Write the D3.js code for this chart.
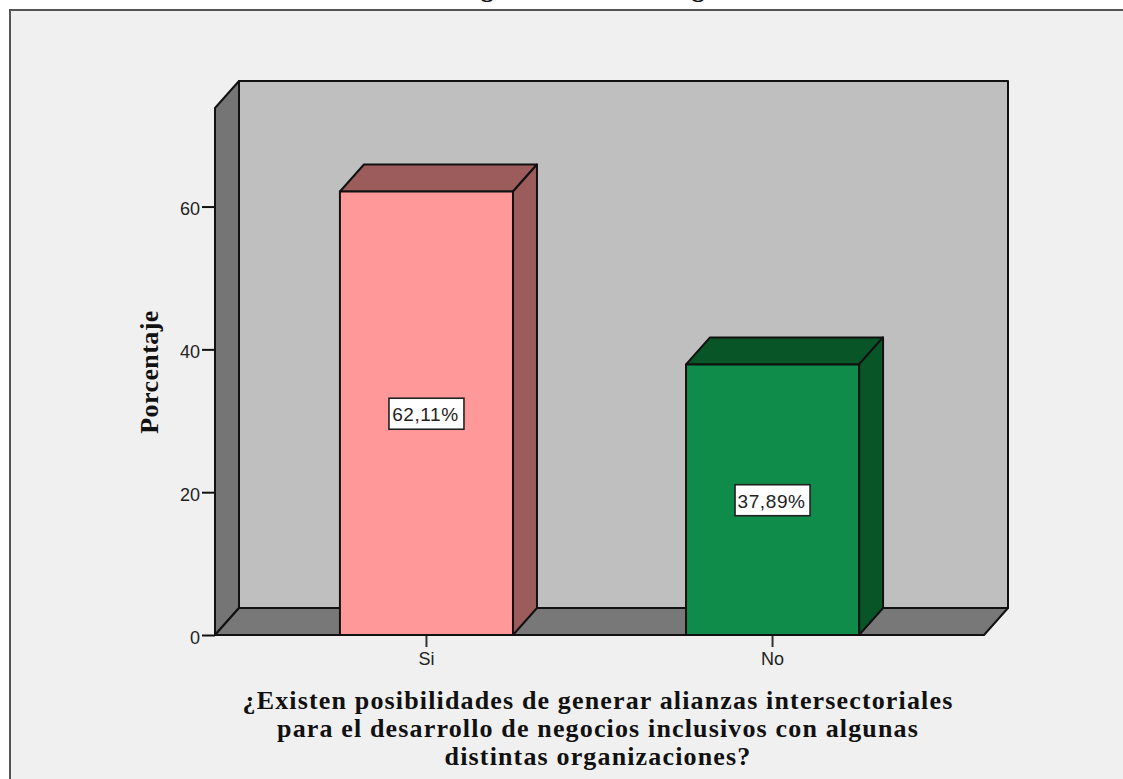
<!DOCTYPE html>
<html><head><meta charset="utf-8">
<style>html,body{margin:0;padding:0;background:#fff;overflow:hidden}svg{display:block}</style>
<script src="https://d3js.org/d3.v7.min.js"></script></head><body>
<svg id="c" width="1123" height="779"></svg>
<script>
const categories = ["Si", "No"];
const percentages = [62.11, 37.89];
const valueLabels = ["62,11%", "37,89%"];
const yTicks = [0, 20, 40, 60];
const frontColors = ["#ff9999", "#0f8c4a"];
const sideColors = ["#9c5c5c", "#085528"];
const xTitleLines = ["¿Existen posibilidades de generar alianzas intersectoriales", "para el desarrollo de negocios inclusivos con algunas", "distintas organizaciones?"];
const yTitle = "Porcentaje";
const titleFragment = "Negocios inclusivos según";

const svg = d3.select("#c");
const dx = 24, dy = -27;
const x = d3.scaleBand().domain(categories).range([215, 984]).paddingInner(0.5).paddingOuter(0.361);
const y = d3.scaleLinear().domain([0, 73.8]).range([635, 108]);
const stroke = "#111";
const poly = (pts, fill) => svg.append("polygon").attr("points", pts.map(p => p.join(",")).join(" "))
  .attr("fill", fill).attr("stroke", stroke).attr("stroke-width", 2).attr("stroke-linejoin", "round");
const sans = "'Liberation Sans', Arial, sans-serif", serif = "'Liberation Serif', 'Times New Roman', serif";

// chart frame: runs past the right and bottom edges of the picture
svg.append("rect").attr("x", 10).attr("y", 10).attr("width", 1200).attr("height", 900)
  .attr("fill", "#f0f0f0").attr("stroke", "#555").attr("stroke-width", 2);
svg.append("text").attr("x", 592).attr("y", -3).attr("text-anchor", "middle")
  .attr("font-family", serif).attr("font-weight", "bold").attr("font-size", 26).attr("fill", "#111").text(titleFragment);

const [x0, x1] = x.range(), y0 = y(0), yT = y.range()[1];
// back wall, side wall, floor
poly([[x0 + dx, yT + dy], [x1 + dx, yT + dy], [x1 + dx, y0 + dy], [x0 + dx, y0 + dy]], "#bfbfbf");
poly([[x0, yT], [x0 + dx, yT + dy], [x0 + dx, y0 + dy], [x0, y0]], "#757575");
poly([[x0, y0], [x0 + dx, y0 + dy], [x1 + dx, y0 + dy], [x1, y0]], "#787878");

// axes
const yAxis = d3.axisLeft(y).tickValues(yTicks).tickSize(13).tickPadding(2).tickFormat(d3.format("d"));
const gy = svg.append("g").attr("transform", `translate(${x0},0)`).call(yAxis);
gy.select(".domain").remove();
gy.selectAll("line").attr("stroke", stroke).attr("stroke-width", 2);
gy.selectAll("text").attr("dy", 8).attr("font-family", sans).attr("font-size", 18).attr("fill", "#222");
const xAxis = d3.axisBottom(x).tickSize(12).tickPadding(5);
const gx = svg.append("g").attr("transform", `translate(0,${y0})`).call(xAxis);
gx.select(".domain").remove();
gx.selectAll("line").attr("stroke", "#333").attr("stroke-width", 2);
gx.selectAll("text").attr("font-family", sans).attr("font-size", 18).attr("fill", "#222");

// bars
categories.forEach((c, i) => {
  const l = x(c), r = l + x.bandwidth(), t = y(percentages[i]);
  poly([[l, t], [l + dx, t + dy], [r + dx, t + dy], [r, t]], sideColors[i]);
  poly([[r, t], [r + dx, t + dy], [r + dx, y0 + dy], [r, y0]], sideColors[i]);
  poly([[l, t], [r, t], [r, y0], [l, y0]], frontColors[i]);
  const cx = l + x.bandwidth() / 2, cy = (t + y0) / 2 + 1;
  svg.append("rect").attr("x", cx - 37.5).attr("y", cy - 16).attr("width", 75).attr("height", 31)
    .attr("fill", "#fff").attr("stroke", "#222").attr("stroke-width", 1.6);
  svg.append("text").attr("x", cx - 1).attr("y", cy + 7).attr("text-anchor", "middle")
    .attr("font-family", sans).attr("font-size", 19).attr("letter-spacing", 0.6).attr("fill", "#222").text(valueLabels[i]);
});

// axis titles
svg.append("text").attr("transform", "translate(158,372) rotate(-90)").attr("text-anchor", "middle")
  .attr("font-family", serif).attr("font-weight", "bold").attr("font-size", 26).attr("letter-spacing", 0.4).attr("fill", "#111").text(yTitle);
xTitleLines.forEach((s, i) => svg.append("text").attr("x", 598).attr("y", 708.5 + i * 28.2).attr("text-anchor", "middle")
  .attr("font-family", serif).attr("font-weight", "bold").attr("font-size", 26).attr("letter-spacing", 1.15).attr("fill", "#111").text(s));
</script></body></html>
